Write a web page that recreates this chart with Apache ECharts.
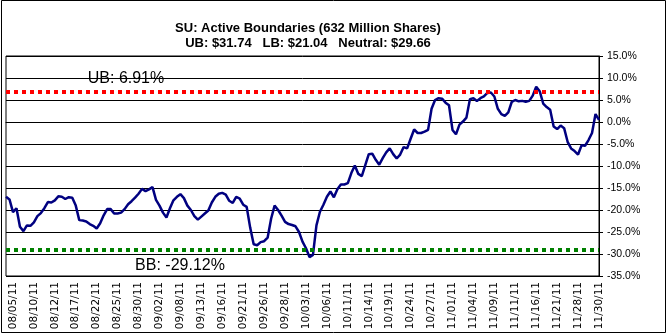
<!DOCTYPE html>
<html>
<head>
<meta charset="utf-8">
<script src="https://cdn.jsdelivr.net/npm/echarts@6/dist/echarts.min.js"></script>
<style>
  html, body { margin: 0; padding: 0; background: #ffffff; }
  #chart { width: 667px; height: 334px; }
</style>
</head>
<body>
<div id="chart"></div>
<script>
// Date labels shown on the category axis (one every sixth observation)
const tickLabels = [
  '08/05/11', '08/10/11', '08/12/11', '08/17/11', '08/22/11', '08/25/11', '08/30/11',
  '09/02/11', '09/08/11', '09/13/11', '09/16/11', '09/21/11', '09/26/11', '09/28/11',
  '10/03/11', '10/06/11', '10/11/11', '10/14/11', '10/19/11', '10/24/11', '10/27/11',
  '11/01/11', '11/04/11', '11/09/11', '11/11/11', '11/16/11', '11/21/11', '11/28/11',
  '11/30/11'
];

// Position of SU relative to its active boundaries, in percent
const activeReturn = [
  -17.0, -17.6, -20.5, -19.6, -23.8, -24.8, -23.5, -23.6, -22.8, -21.4,
  -20.7, -19.6, -18.2, -18.3, -17.8, -16.9, -17.0, -17.5, -17.1, -17.2,
  -19.0, -22.3, -22.4, -22.6, -23.2, -23.6, -24.2, -23.0, -21.2, -19.8,
  -19.8, -20.8, -20.8, -20.6, -19.8, -18.7, -18.0, -17.2, -16.3, -15.2,
  -15.7, -15.3, -14.8, -17.7, -19.0, -20.6, -21.7, -19.6, -17.8, -17.0,
  -16.4, -17.3, -19.0, -20.0, -21.4, -22.2, -21.5, -20.8, -20.1, -18.3,
  -17.0, -16.3, -16.1, -16.5, -17.9, -18.4, -17.0, -17.4, -18.8, -19.3,
  -24.0, -27.8, -28.0, -27.3, -27.1, -26.3, -22.0, -19.0, -20.0, -21.3,
  -22.7, -23.2, -23.4, -23.7, -25.0, -27.2, -28.7, -30.7, -30.2, -23.5,
  -20.4, -18.8, -17.0, -15.8, -17.1, -15.3, -14.2, -14.2, -13.9, -11.6,
  -9.9, -11.8, -12.3, -9.8, -7.3, -7.2, -8.6, -9.7, -8.2, -6.9,
  -6.0, -7.3, -8.3, -7.4, -5.7, -6.0, -3.8, -1.7, -2.5, -2.5,
  -2.2, -1.8, 3.0, 5.0, 5.4, 5.3, 4.4, 3.8, -1.8, -2.8,
  -0.6, 0.1, 1.0, 5.2, 5.4, 4.8, 5.4, 5.8, 6.6, 6.7,
  5.8, 3.0, 1.8, 1.4, 2.2, 4.6, 5.0, 4.7, 4.8, 4.6,
  4.8, 6.0, 8.0, 7.0, 4.2, 3.4, 2.8, -1.0, -1.6, -0.8,
  -1.4, -4.5, -6.0, -6.6, -7.4, -5.3, -5.4, -4.1, -2.5, 1.8,
  0.5
];

// Active boundaries, in percent
const upperBound = 6.91;
const lowerBound = -29.12;

const titleLine1 = 'SU: Active Boundaries (632 Million Shares)';
const titleLine2 = 'UB: $31.74   LB: $21.04   Neutral: $29.66';

// Category names: a date on every sixth slot, starting at the third observation
const categories = activeReturn.map((_, i) =>
  (i - 2) % 6 === 0 ? tickLabels[(i - 2) / 6] : ''
);

const chart = echarts.init(document.getElementById('chart'), null, { renderer: 'canvas' });

const FONT = "'Liberation Sans', Arial, sans-serif";

chart.setOption({
  animation: false,
  backgroundColor: '#ffffff',
  grid: {
    left: 6, right: 68, top: 56, bottom: 58,
    show: true, borderColor: '#000000', borderWidth: 1, backgroundColor: 'transparent'
  },
  xAxis: {
    type: 'category',
    data: categories,
    boundaryGap: false,
    axisLine: { show: true, lineStyle: { color: '#000000', width: 1 } },
    axisTick: { show: false },
    splitLine: { show: false },
    axisLabel: {
      interval: 0,
      rotate: 90,
      margin: 6,
      color: '#000000',
      fontFamily: "'DejaVu Sans', sans-serif",
      fontSize: 10.5
    }
  },
  yAxis: {
    type: 'value',
    position: 'right',
    min: -35, max: 15, interval: 5,
    axisLine: { show: true, lineStyle: { color: '#000000', width: 1 } },
    axisTick: { show: true, inside: false, length: 4, lineStyle: { color: '#000000' } },
    splitLine: { show: true, lineStyle: { color: '#000000', width: 1 } },
    axisLabel: {
      margin: 8,
      color: '#000000',
      fontFamily: FONT,
      fontSize: 10.5,
      formatter: v => v.toFixed(1) + '%'
    }
  },
  series: [{
    type: 'line',
    data: activeReturn,
    showSymbol: false,
    symbol: 'none',
    lineStyle: { color: '#000080', width: 2.5 },
    z: 3,
    markLine: {
      silent: true,
      symbol: 'none',
      label: { show: false },
      lineStyle: { width: 4, type: [4, 4] },
      data: [
        { yAxis: upperBound, lineStyle: { color: '#ff0000', width: 4, type: [4, 4] } },
        { yAxis: lowerBound, lineStyle: { color: '#008000', width: 4, type: [4, 4] } }
      ]
    }
  }],
  graphic: [
    {
      type: 'rect', silent: true,
      shape: { x: 1.5, y: 0.5, width: 664, height: 332 },
      style: { fill: 'none', stroke: '#000000', lineWidth: 1 }
    },
    {
      type: 'text', x: 308, y: 28, silent: true,
      style: {
        text: titleLine1, fontFamily: FONT, fontWeight: 'bold', fontSize: 13,
        fill: '#000000', align: 'center', verticalAlign: 'middle'
      }
    },
    {
      type: 'text', x: 308, y: 43, silent: true,
      style: {
        text: titleLine2, fontFamily: FONT, fontWeight: 'bold', fontSize: 13,
        fill: '#000000', align: 'center', verticalAlign: 'middle'
      }
    },
    {
      type: 'text', x: 126, y: 79, silent: true,
      style: {
        text: 'UB: ' + upperBound.toFixed(2) + '%', fontFamily: FONT, fontSize: 16,
        fill: '#000000', align: 'center', verticalAlign: 'middle'
      }
    },
    {
      type: 'text', x: 180, y: 266, silent: true,
      style: {
        text: 'BB: ' + lowerBound.toFixed(2) + '%', fontFamily: FONT, fontSize: 16,
        fill: '#000000', align: 'center', verticalAlign: 'middle'
      }
    }
  ]
});
</script>
</body>
</html>
